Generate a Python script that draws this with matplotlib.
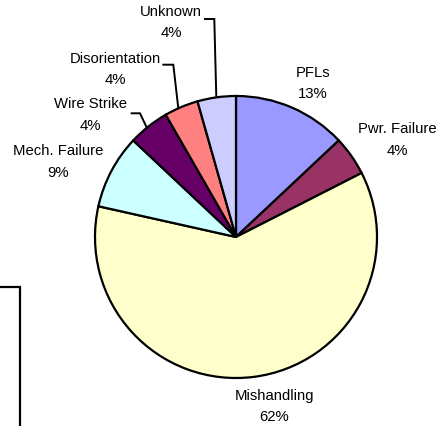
import matplotlib
matplotlib.use("Agg")
import matplotlib.pyplot as plt
from matplotlib.patches import Rectangle

plt.rcParams['font.family'] = ['Liberation Sans', 'DejaVu Sans']

categories = ["PFLs", "Pwr. Failure", "Mishandling", "Mech. Failure",
              "Wire Strike", "Disorientation", "Unknown"]
values = [13.0, 4.5, 61.0, 8.5, 4.7, 3.9, 4.4]
pct_labels = ["13%", "4%", "62%", "9%", "4%", "4%", "4%"]
colors = ["#9999FF", "#993366", "#FFFFCC", "#CCFFFF", "#660066", "#FF8080", "#CCCCFF"]

# label text positions (data units, pie radius = 1)
label_pos = [(0.546, 1.096), (1.142, 0.695), (0.270, -1.195), (-1.262, 0.539),
             (-1.035, 0.872), (-0.858, 1.195), (-0.461, 1.528)]

W, H = 441, 427
cx, cy, R = 236, 238, 141
fig = plt.figure(figsize=(W / 100, H / 100), dpi=100)
ax = fig.add_axes([0, 0, 1, 1])

ax.pie(values, colors=colors, startangle=90, counterclock=False, radius=1.0,
       center=(0, 0), frame=True,
       wedgeprops=dict(edgecolor='black', linewidth=1.6))
ax.set_xlim((0 - cx) / R, (W - cx) / R)
ax.set_ylim((cy - H) / R, cy / R)
ax.set_aspect('auto')
ax.axis('off')

for cat, pct, (x, y) in zip(categories, pct_labels, label_pos):
    ax.text(x, y, f"{cat}\n{pct}", ha='center', va='center', fontsize=10.7,
            linespacing=1.65, color='black')


def px(x, y):
    return ((x - cx) / R, (cy - y) / R)


leaders = [
    [(205, 20), (214.3, 20), (216.3, 98)],
    [(163.3, 65.7), (173.3, 65.7), (178.3, 109.3)],
    [(131.7, 114.3), (140, 114.3), (146.7, 128.5)],
]
for pts in leaders:
    xs, ys = zip(*[px(*p) for p in pts])
    ax.plot(xs, ys, color='black', linewidth=1.4, solid_joinstyle='miter')

# partially visible box at the lower left
fig.patches.append(Rectangle((-0.05, -0.05), 0.05 + 20 / W, 0.05 + (H - 288) / H,
                             transform=fig.transFigure, fill=False,
                             edgecolor='black', linewidth=1.6))

fig.savefig("out.png", dpi=100)
